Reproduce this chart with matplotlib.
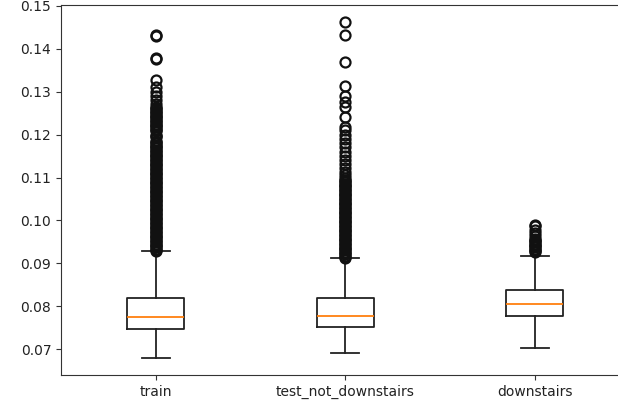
import matplotlib
matplotlib.use("Agg")
import matplotlib.pyplot as plt

labels = ["train", "test_not_downstairs", "downstairs"]

medians = [0.07744, 0.07781, 0.08054]
q1s = [0.07464, 0.07510, 0.07774]
q3s = [0.08186, 0.08186, 0.08380]
whis_lo = [0.06788, 0.06904, 0.07035]
whis_hi = [0.09289, 0.09119, 0.09172]

fliers_train = [
    0.1432, 0.1430, 0.1379, 0.1377, 0.1328, 0.1310, 0.1300, 0.1289, 0.1280, 0.1272, 0.1265,
    0.1262, 0.1259, 0.1256, 0.1253, 0.1250, 0.1247, 0.1244, 0.1241, 0.1238, 0.1235,
    0.1232, 0.1229, 0.1226, 0.1223, 0.1220, 0.1217, 0.1214, 0.1211, 0.1208,
    0.1200, 0.1197, 0.1194, 0.1186, 0.1183,
    0.1180, 0.1177, 0.1174, 0.1171, 0.1168, 0.1165, 0.1162, 0.1159, 0.1156, 0.1153,
    0.1150, 0.1147, 0.1144, 0.1141, 0.1138, 0.1135, 0.1132, 0.1129, 0.1126, 0.1123,
    0.1120, 0.1117, 0.1114, 0.1111, 0.1108, 0.1105, 0.1102, 0.1099, 0.1096, 0.1093,
    0.1090, 0.1087, 0.1084, 0.1081, 0.1078, 0.1075, 0.1072, 0.1069, 0.1066, 0.1063,
    0.1060, 0.1057, 0.1054, 0.1051, 0.1048, 0.1045, 0.1042, 0.1039, 0.1036, 0.1033,
    0.1030, 0.1027, 0.1024, 0.1021, 0.1018, 0.1015, 0.1012, 0.1009, 0.1006, 0.1003,
    0.1000, 0.0997, 0.0994, 0.0991, 0.0988, 0.0985, 0.0982, 0.0979, 0.0976, 0.0973,
    0.0970, 0.0967, 0.0964, 0.0961, 0.0958, 0.0955, 0.0952, 0.0949, 0.0946, 0.0943,
    0.0940, 0.0937, 0.0934, 0.0931, 0.0929,
]

fliers_test = [
    0.1463, 0.1432, 0.1370, 0.1314, 0.1289, 0.1277, 0.1265, 0.1242, 0.1218, 0.1210,
    0.1199, 0.1190, 0.1181, 0.1172, 0.1160, 0.1150, 0.1141, 0.1131, 0.1122, 0.1114,
    0.1106, 0.1100,
    0.1095, 0.1092, 0.1089, 0.1086, 0.1083, 0.1080, 0.1077, 0.1074, 0.1071, 0.1068,
    0.1065, 0.1062, 0.1059, 0.1056, 0.1053, 0.1050, 0.1047, 0.1044, 0.1041, 0.1038,
    0.1035, 0.1032, 0.1029, 0.1026, 0.1023, 0.1020, 0.1017, 0.1014, 0.1011, 0.1008,
    0.1005, 0.1002, 0.0999, 0.0996, 0.0993, 0.0990, 0.0987, 0.0984, 0.0981, 0.0978,
    0.0975, 0.0972, 0.0969, 0.0966, 0.0963, 0.0960, 0.0957, 0.0954, 0.0951, 0.0948,
    0.0945, 0.0942, 0.0939, 0.0936, 0.0933, 0.0930, 0.0927, 0.0924, 0.0921, 0.0918,
    0.0915, 0.0913,
]

fliers_down = [
    0.0990, 0.0986, 0.0978, 0.0970, 0.0963,
    0.0957, 0.0955, 0.0952, 0.0949, 0.0946, 0.0943, 0.0940, 0.0937, 0.0934, 0.0931,
    0.0928, 0.0926,
]

fliers_all = [fliers_train, fliers_test, fliers_down]

stats = []
for i, lab in enumerate(labels):
    stats.append(dict(label=lab, med=medians[i], q1=q1s[i], q3=q3s[i],
                      whislo=whis_lo[i], whishi=whis_hi[i], fliers=fliers_all[i]))

fig = plt.figure(figsize=(6.18, 4.08), dpi=100)
ax = fig.add_axes([61 / 618, 33 / 408, 568.5 / 618, 370 / 408])
lw = 1.3
ax.bxp(stats,
       boxprops=dict(linewidth=lw, color="#222222"),
       whiskerprops=dict(linewidth=lw, color="#222222"),
       capprops=dict(linewidth=lw, color="#222222"),
       medianprops=dict(linewidth=lw, color="#ff7f0e"),
       flierprops=dict(marker="o", markersize=7.2, markeredgewidth=1.6,
                       markeredgecolor="#111111", markerfacecolor="none"))
ax.set_xlim(0.5, 3.5)
ax.set_ylim(0.06397, 0.15023)
ax.set_yticks([0.07, 0.08, 0.09, 0.10, 0.11, 0.12, 0.13, 0.14, 0.15])
ax.set_yticklabels(["0.07", "0.08", "0.09", "0.10", "0.11", "0.12", "0.13", "0.14", "0.15"])
for s in ax.spines.values():
    s.set_color("#333333")
ax.tick_params(colors="#333333", labelcolor="#222222")
fig.savefig("out.png", dpi=100)
